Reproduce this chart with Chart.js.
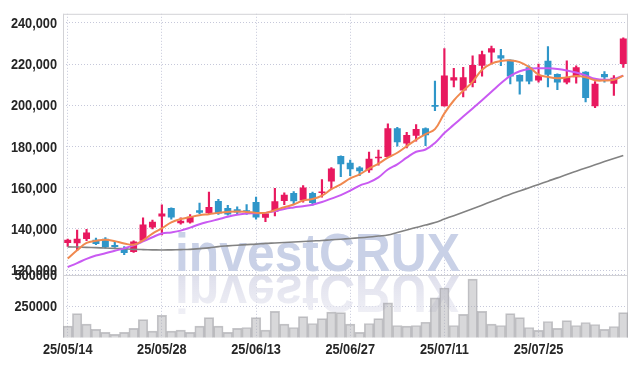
<!DOCTYPE html>
<html><head><meta charset="utf-8">
<script src="https://cdn.jsdelivr.net/npm/chart.js@4.4.1/dist/chart.umd.min.js"></script>
<style>html,body{margin:0;padding:0;background:#fff;overflow:hidden}canvas{display:block}</style>
</head><body>
<canvas id="c" width="637" height="366"></canvas>
<script>
const dates = ['25/05/14','25/05/15','25/05/16','25/05/19','25/05/20','25/05/21','25/05/22','25/05/23','25/05/26','25/05/27',
 '25/05/28','25/05/29','25/05/30','25/06/02','25/06/04','25/06/05','25/06/09','25/06/10','25/06/11','25/06/12',
 '25/06/13','25/06/16','25/06/17','25/06/18','25/06/19','25/06/20','25/06/23','25/06/24','25/06/25','25/06/26',
 '25/06/27','25/06/30','25/07/01','25/07/02','25/07/03','25/07/04','25/07/07','25/07/08','25/07/09','25/07/10',
 '25/07/11','25/07/14','25/07/15','25/07/16','25/07/17','25/07/18','25/07/21','25/07/22','25/07/23','25/07/24',
 '25/07/25','25/07/28','25/07/29','25/07/30','25/07/31','25/08/01','25/08/04','25/08/05','25/08/06','25/08/07'];

const opens = [133100,133050,135050,134700,135150,132100,130650,128750,134200,140700,
 146000,150150,142650,143100,149050,147600,153500,150150,149500,149050,
 153000,145350,148250,153500,157350,153850,157350,157450,162950,175350,
 172150,169800,168500,174250,174900,188900,181400,185250,188900,200100,
 199600,212050,207250,210800,219200,225650,224350,222100,214750,218450,
 212050,221600,215250,211100,213650,216350,199600,215250,210450,220050];
const highs = [135000,139450,139750,135450,135800,133850,131350,134200,145350,144200,
 151700,150200,145350,146950,152550,157800,154300,151450,150650,151750,
 155400,147800,159700,157450,158150,161000,157800,163900,169800,175400,
 173450,170250,177300,178250,191000,189250,186850,190650,189000,211750,
 227550,218000,218450,224000,226400,228800,227200,222100,214750,219200,
 220050,228500,215250,221600,219200,216350,211550,216350,214450,232800];
const lows = [131500,129400,134200,132300,130650,131000,127500,128600,133850,140000,
 137100,144750,142300,142800,147400,147000,146950,146650,147400,146950,
 144750,143450,146300,151750,152200,153000,151450,155400,159400,165300,
 165800,165800,167400,170900,174550,180150,179350,182550,180450,197400,
 199600,208900,204100,208900,214150,220050,219200,210450,205350,210450,
 211300,208900,207600,210450,210800,201700,198850,211300,204850,218450];
const closes = [134700,135150,138200,132600,131000,131150,128250,133850,142150,143450,
 147400,145500,143900,145850,147750,150600,147400,146950,147900,148250,
 145500,147400,153350,156550,153350,160050,152550,157800,169300,171350,
 168950,168000,174100,174550,188900,182100,185550,188450,185400,199300,
 214450,213650,213650,219550,224850,227700,222750,213950,211550,211550,
 214450,214900,211100,213650,218450,203600,210450,213650,213350,232500];
const ma5 = [125590,129560,133150,134200,134690,134020,132910,132290,134350,137700,
 140240,143110,144740,145700,146560,147130,147750,148230,148470,148230,
 147750,147750,149050,150480,151820,153740,154460,156130,159240,161640,
 164510,166420,169300,171690,174560,176960,180160,183320,186050,188440,
 196100,202330,207110,211420,217300,220280,221470,221810,221000,218600,
 214920,213820,213190,213580,214290,213670,212140,212040,212380,214440];
const ma20 = [121420,123340,125400,127030,128130,129330,130520,131960,133870,135930,
 137700,138270,139140,140570,142250,143500,144640,145840,146800,147420,
 147560,147750,148570,149670,150390,151010,151730,153020,154700,156370,
 158520,161010,162600,164990,168820,171350,174560,177430,178530,181740,
 186530,190500,194520,198500,202470,206560,210700,214290,216540,217640,
 217980,217980,217640,216930,215970,214530,212860,212380,212710,214440];
const ma60 = [131240,131140,131000,130860,130660,130520,130280,130040,129900,129800,
 129710,129800,129900,130040,130380,130760,131340,131720,132050,132340,
 132580,132920,133150,133390,133630,133870,134110,134350,134690,134970,
 135310,135640,136030,136500,137000,138200,139400,140670,141820,143060,
 144740,146410,148090,149770,151490,153260,155030,156850,158380,159960,
 161540,163170,164750,166420,168000,169540,171070,172650,174180,175660];
const volumes = [91400,190600,107000,65600,42200,26600,42200,73400,143700,52300,
 177300,52300,60200,42200,91400,159400,91400,42200,73400,81200,
 159400,60200,208600,107000,81200,167200,112500,151600,203100,198400,
 107000,42200,112500,151600,276600,96900,91400,96900,122700,315600,
 393700,96900,185200,464000,208600,107000,96900,190600,159400,81200,
 57800,128100,73400,135900,96900,120300,104700,65600,89100,198400];
const priceTicks = [120000,140000,160000,180000,200000,220000,240000];
const volumeTicks = [0,250000,500000];

const UP = '#e8195f', DOWN = '#2f96c9';
const candleColors = opens.map((o,i) => closes[i] >= o ? UP : DOWN);
const GRID = '#c6c8da';
const SIZEFONT = {family: '"Liberation Sans", Arial, sans-serif', size: 13};
const LABELFONT = 'bold 15px "Liberation Sans", Arial, sans-serif';
const NARROW = 0.85;

const watermark = {
  id: 'wm',
  beforeDatasetsDraw(chart) {
    const ctx = chart.ctx;
    const text = 'investCRUX';
    ctx.save();
    ctx.font = 'bold 54px "Liberation Sans", Arial, sans-serif';
    const w = ctx.measureText(text).width;
    const sx = 285 / w;
    ctx.save();
    ctx.translate(175, 271);
    ctx.scale(sx, 1);
    ctx.fillStyle = 'rgb(201,209,231)';
    ctx.fillText(text, 0, 0);
    ctx.restore();
    ctx.save();
    ctx.translate(175, 275);
    ctx.scale(sx, -1);
    const g = ctx.createLinearGradient(0, 0, 0, -40);
    g.addColorStop(0, 'rgba(222,223,236,1)');
    g.addColorStop(1, 'rgba(230,230,240,0.6)');
    ctx.fillStyle = g;
    ctx.fillText(text, 0, 0);
    ctx.restore();
    ctx.restore();
  }
};
const frame = {
  id: 'frame',
  beforeDatasetsDraw(chart) {
    const ctx = chart.ctx, a = chart.chartArea;
    const sep = chart.scales.yv.top;
    ctx.save();
    ctx.strokeStyle = '#d2d2d6';
    ctx.lineWidth = 1;
    ctx.beginPath();
    ctx.moveTo(a.left + 0.5, a.top); ctx.lineTo(a.left + 0.5, a.bottom);
    ctx.moveTo(a.right - 0.5, a.top); ctx.lineTo(a.right - 0.5, a.bottom);
    ctx.moveTo(a.left, a.top + 0.5); ctx.lineTo(a.right, a.top + 0.5);
    ctx.moveTo(a.left, Math.round(sep) + 0.5); ctx.lineTo(a.right, Math.round(sep) + 0.5);
    ctx.stroke();
    ctx.restore();
  }
};
function narrowText(ctx, text, x, y, align) {
  ctx.save();
  ctx.translate(x, y);
  ctx.scale(NARROW, 1);
  ctx.textAlign = align;
  ctx.textBaseline = 'middle';
  ctx.fillText(text, 0, 0);
  ctx.restore();
}
const tickLabels = {
  id: 'tickLabels',
  afterDraw(chart) {
    const ctx = chart.ctx;
    ctx.save();
    ctx.font = LABELFONT;
    ctx.fillStyle = '#262626';
    for (const id of ['y', 'yv']) {
      const s = chart.scales[id];
      for (const t of s.ticks) {
        if (t.label === null || t.label === undefined || t.label === '') continue;
        narrowText(ctx, String(t.label), s.right - 6, s.getPixelForValue(t.value) + 1, 'right');
      }
    }
    const sx = chart.scales.x;
    for (const t of sx.ticks) {
      if (t.label === null || t.label === undefined || t.label === '') continue;
      narrowText(ctx, String(t.label), sx.getPixelForValue(t.value), chart.chartArea.bottom + 12, 'center');
    }
    ctx.restore();
  }
};

new Chart(document.getElementById('c'), {
  data: {
    labels: dates,
    datasets: [
      {type: 'line', data: ma5, yAxisID: 'y', borderColor: '#f0894f', borderWidth: 2, pointRadius: 0, tension: 0.4},
      {type: 'line', data: ma20, yAxisID: 'y', borderColor: '#c95af2', borderWidth: 2, pointRadius: 0, tension: 0.4},
      {type: 'line', data: ma60, yAxisID: 'y', borderColor: '#828282', borderWidth: 1.6, pointRadius: 0, tension: 0.4},
      {type: 'bar', data: opens.map((o,i) => [o, closes[i]]), yAxisID: 'y', backgroundColor: candleColors,
        grouped: false, barPercentage: 0.74, categoryPercentage: 1, minBarLength: 1.5},
      {type: 'bar', data: lows.map((l,i) => [l, highs[i]]), yAxisID: 'y', backgroundColor: candleColors,
        grouped: false, barThickness: 1.5},
      {type: 'bar', data: volumes, yAxisID: 'yv', backgroundColor: 'rgba(168,168,172,0.45)',
        borderColor: 'rgba(150,150,155,0.55)', borderWidth: 1, grouped: false, barPercentage: 1, categoryPercentage: 1}
    ]
  },
  options: {
    responsive: false,
    animation: false,
    devicePixelRatio: 1,
    layout: {padding: {top: 9, right: 9, bottom: 4.3, left: 0}},
    plugins: {legend: {display: false}, tooltip: {enabled: false}},
    scales: {
      x: {
        type: 'category', offset: true,
        afterFit: s => { s.height = 24; },
        grid: {offset: false, color: GRID, drawTicks: false},
        border: {display: false, dash: [1, 2]},
        ticks: {autoSkip: false, maxRotation: 0, padding: 4, color: 'rgba(0,0,0,0)', font: SIZEFONT,
          callback: function(v, i) { return i % 10 === 0 ? this.getLabelForValue(v) : null; }}
      },
      yv: {
        type: 'linear', position: 'left', stack: 'panels', stackWeight: 64,
        min: 0, max: 500000,
        afterBuildTicks: s => { s.ticks = volumeTicks.map(v => ({value: v})); },
        afterFit: s => { s.width = 63; },
        grid: {color: GRID, drawTicks: false},
        border: {display: false, dash: [1, 2]},
        ticks: {padding: 6, color: 'rgba(0,0,0,0)', font: SIZEFONT,
          callback: v => v === 0 ? null : String(v)}
      },
      y: {
        type: 'linear', position: 'left', stack: 'panels', stackWeight: 264.7,
        min: 117750, max: 244450,
        afterBuildTicks: s => { s.ticks = priceTicks.map(v => ({value: v})); },
        afterFit: s => { s.width = 63; },
        grid: {color: GRID, drawTicks: false},
        border: {display: false, dash: [1, 2]},
        ticks: {padding: 6, color: 'rgba(0,0,0,0)', font: SIZEFONT,
          callback: v => v.toLocaleString('en-US')}
      }
    }
  },
  plugins: [watermark, frame, tickLabels]
});
</script>
</body></html>
